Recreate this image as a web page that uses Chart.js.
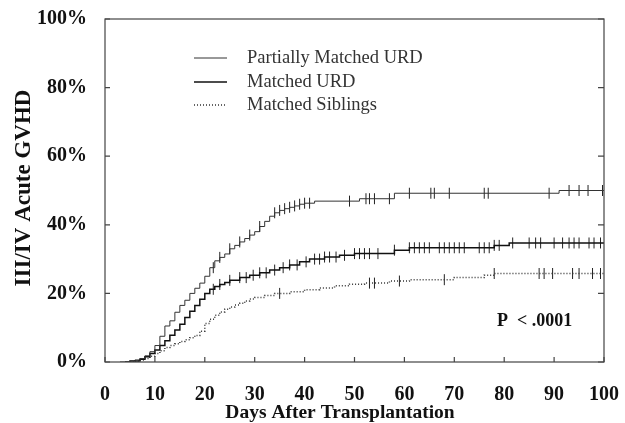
<html>
<head>
<script src="https://cdn.jsdelivr.net/npm/chart.js"></script>
<style>
  body { margin: 0; background: #fff; }
</style>
</head>
<body>
<canvas id="gvhdChart" width="625" height="423"></canvas>

<script>
    // step curves: day of each event and cumulative incidence (%) after it
    var pmDays = [3, 5, 6, 7, 8, 9, 10, 11, 12, 13, 14, 15, 16, 17, 18, 19, 20, 21, 22, 23, 24, 25, 26, 27, 28, 29, 30, 31, 32, 33, 34, 35, 36, 37, 38, 39, 40, 42, 51, 58, 91, 100];
    var pmPct = [0, 0.3, 0.6, 1, 1.8, 3, 4.8, 7.5, 10.5, 12, 14.5, 16.5, 18, 20, 21.5, 23, 25, 27.5, 29.5, 30.5, 31.5, 33, 34, 35, 36, 37, 38, 39.5, 41, 42.5, 43.5, 44.2, 44.7, 45.1, 45.5, 46, 46.3, 46.9, 47.6, 49.2, 50, 50];

    var muDays = [4, 5, 7, 8, 9, 10, 11, 12, 13, 14, 15, 16, 17, 18, 19, 20, 21, 22, 23, 24, 25, 27, 29, 31, 33, 35, 37, 39, 41, 44, 47, 50, 58, 61, 78, 81, 100];
    var muPct = [0, 0.3, 0.8, 1.5, 2.5, 3.5, 4.8, 6.2, 7.8, 9.3, 11, 13, 14.8, 16.5, 18.3, 20, 21.2, 22, 22.6, 23.2, 23.8, 24.6, 25.3, 26, 26.8, 27.5, 28.3, 29.2, 30, 30.6, 31.1, 31.6, 32.6, 33.3, 34, 34.7, 34.7];

    var msDays = [5, 6, 7, 8, 9, 10, 11, 12, 13, 14, 15, 16, 17, 18, 19, 20, 21, 22, 23, 24, 25, 26, 27, 28, 29, 30, 32, 34, 37, 40, 43, 46, 49, 52, 57, 61, 70, 76, 78, 100];
    var msPct = [0, 0.3, 0.6, 1, 1.7, 2.5, 3.3, 4.2, 4.8, 5.3, 6, 6.5, 7.1, 7.7, 9, 11.2, 12.5, 13.6, 14.6, 15.4, 16, 16.6, 17.1, 17.8, 18.4, 18.8, 19.4, 20, 20.5, 21.1, 21.6, 22.2, 22.7, 23, 23.6, 24, 24.6, 25.3, 25.8, 25.8];

    // censored patients (days)
    var pmCens = [21.7, 23, 25, 27, 29, 31, 34, 35, 36, 37, 38, 39, 40, 41, 49, 52.3, 53, 54, 57, 61, 65.3, 66, 69, 76, 76.8, 89, 93, 95, 96.8, 99.7];
    var muCens = [21.7, 23, 25, 27, 28.3, 29.7, 31, 32.3, 34, 35.7, 37, 38.5, 40.3, 42, 43, 44, 45, 46.3, 48, 50, 51, 52, 53, 54.7, 58, 61, 62, 63, 64, 65, 67, 68, 69, 70, 71, 72, 75, 76, 77, 78, 79, 81.7, 85, 86.3, 87.3, 90, 91.7, 93, 94, 95, 97, 98, 99.3];
    var msCens = [35, 53, 54, 59, 68, 78, 87, 88, 89.7, 93.7, 95, 97.7, 99.3];

    var seriesNames = ['Partially Matched URD', 'Matched URD', 'Matched Siblings'];
    var xTicks = [0, 10, 20, 30, 40, 50, 60, 70, 80, 90, 100];
    var yTicks = [0, 20, 40, 60, 80, 100];

    function toPoints(days, pct) {
        return days.map(function(d, i) { return {x: d, y: pct[i]}; });
    }

    // value of a step curve at a given day
    function valueAt(days, pct, d) {
        var v = 0;
        for (var i = 0; i < days.length; i++) {
            if (days[i] <= d) v = pct[i];
        }
        return v;
    }

    function censPoints(cens, days, pct) {
        return cens.map(function(d) { return {x: d, y: valueAt(days, pct, d)}; });
    }

    var serif = '"Liberation Serif", "Times New Roman", serif';
    var lineStyles = [
        {color: '#333', width: 1, dash: []},
        {color: '#111', width: 1.5, dash: []},
        {color: '#333', width: 1.5, dash: [1, 2]}
    ];

    function curve(label, days, pct, st) {
        return {
            label: label,
            data: toPoints(days, pct),
            stepped: 'before',
            borderColor: st.color,
            borderWidth: st.width,
            borderDash: st.dash,
            pointRadius: 0,
            fill: false
        };
    }

    function censors(cens, days, pct) {
        return {
            label: 'censored',
            data: censPoints(cens, days, pct),
            showLine: false,
            pointStyle: 'line',
            rotation: 90,
            pointRadius: 5.5,
            borderColor: '#222',
            borderWidth: 1
        };
    }

    // frame, inward ticks, legend and extra texts
    var decorations = {
        id: 'decorations',
        afterDraw: function(chart) {
            var ctx = chart.ctx;
            var a = chart.chartArea;
            var xs = chart.scales.x, ys = chart.scales.y;
            ctx.save();
            ctx.strokeStyle = '#444';
            ctx.lineWidth = 1.2;
            ctx.strokeRect(a.left, a.top, a.right - a.left, a.bottom - a.top);
            ctx.beginPath();
            xTicks.forEach(function(t) {
                var px = xs.getPixelForValue(t);
                ctx.moveTo(px, a.bottom);
                ctx.lineTo(px, a.bottom - 5);
            });
            yTicks.forEach(function(t) {
                var py = ys.getPixelForValue(t);
                ctx.moveTo(a.left, py);
                ctx.lineTo(a.left + 5, py);
                ctx.moveTo(a.right, py);
                ctx.lineTo(a.right - 6, py);
            });
            ctx.stroke();

            // legend
            ctx.font = '18.5px ' + serif;
            ctx.fillStyle = '#333';
            ctx.textBaseline = 'middle';
            var ly = [58, 82, 105];
            seriesNames.forEach(function(name, i) {
                var st = lineStyles[i];
                ctx.beginPath();
                ctx.strokeStyle = st.color;
                ctx.lineWidth = st.width;
                ctx.setLineDash(st.dash);
                ctx.moveTo(194, ly[i]);
                ctx.lineTo(227, ly[i]);
                ctx.stroke();
                ctx.setLineDash([]);
                ctx.fillText(name, 247, ly[i]);
            });

            // p value
            ctx.fillStyle = '#111';
            ctx.font = 'bold 18px ' + serif;
            ctx.fillText('P  < .0001', 497, 321);

            // axis titles
            ctx.textAlign = 'center';
            ctx.font = 'bold 19.5px ' + serif;
            ctx.fillText('Days After Transplantation', 340, 413);
            ctx.translate(24, 188);
            ctx.rotate(-Math.PI / 2);
            ctx.font = 'bold 23px ' + serif;
            ctx.fillText('III/IV Acute GVHD', 0, 0);
            ctx.restore();
        }
    };

    var ctx = document.getElementById('gvhdChart').getContext('2d');
    var chart = new Chart(ctx, {
        type: 'line',
        data: {
            datasets: [
                curve(seriesNames[0], pmDays, pmPct, lineStyles[0]),
                curve(seriesNames[1], muDays, muPct, lineStyles[1]),
                curve(seriesNames[2], msDays, msPct, lineStyles[2]),
                censors(pmCens, pmDays, pmPct),
                censors(muCens, muDays, muPct),
                censors(msCens, msDays, msPct)
            ]
        },
        options: {
            responsive: false,
            devicePixelRatio: 1,
            animation: false,
            layout: { padding: { top: 19, right: 21, left: 0, bottom: 0 } },
            plugins: {
                legend: { display: false },
                tooltip: { enabled: false }
            },
            scales: {
                x: {
                    type: 'linear',
                    min: 0,
                    max: 100,
                    afterFit: function(s) {
                        s.height = 61;
                        s.paddingLeft = 0;
                        s.paddingRight = 0;
                    },
                    afterBuildTicks: function(s) { s.ticks = xTicks.map(function(v) { return {value: v}; }); },
                    grid: { display: false },
                    border: { display: false },
                    ticks: {
                        padding: 13,
                        color: '#111',
                        font: { family: serif, size: 20, weight: 'bold' },
                        maxRotation: 0
                    }
                },
                y: {
                    min: 0,
                    max: 100,
                    afterFit: function(s) {
                        s.width = 105;
                        s.paddingTop = 0;
                        s.paddingBottom = 0;
                    },
                    afterBuildTicks: function(s) { s.ticks = yTicks.map(function(v) { return {value: v}; }); },
                    grid: { display: false },
                    border: { display: false },
                    ticks: {
                        padding: 10,
                        color: '#111',
                        font: { family: serif, size: 20, weight: 'bold' },
                        callback: function(v) { return v + '%'; }
                    }
                }
            }
        },
        plugins: [decorations]
    });
</script>
</body>
</html>
